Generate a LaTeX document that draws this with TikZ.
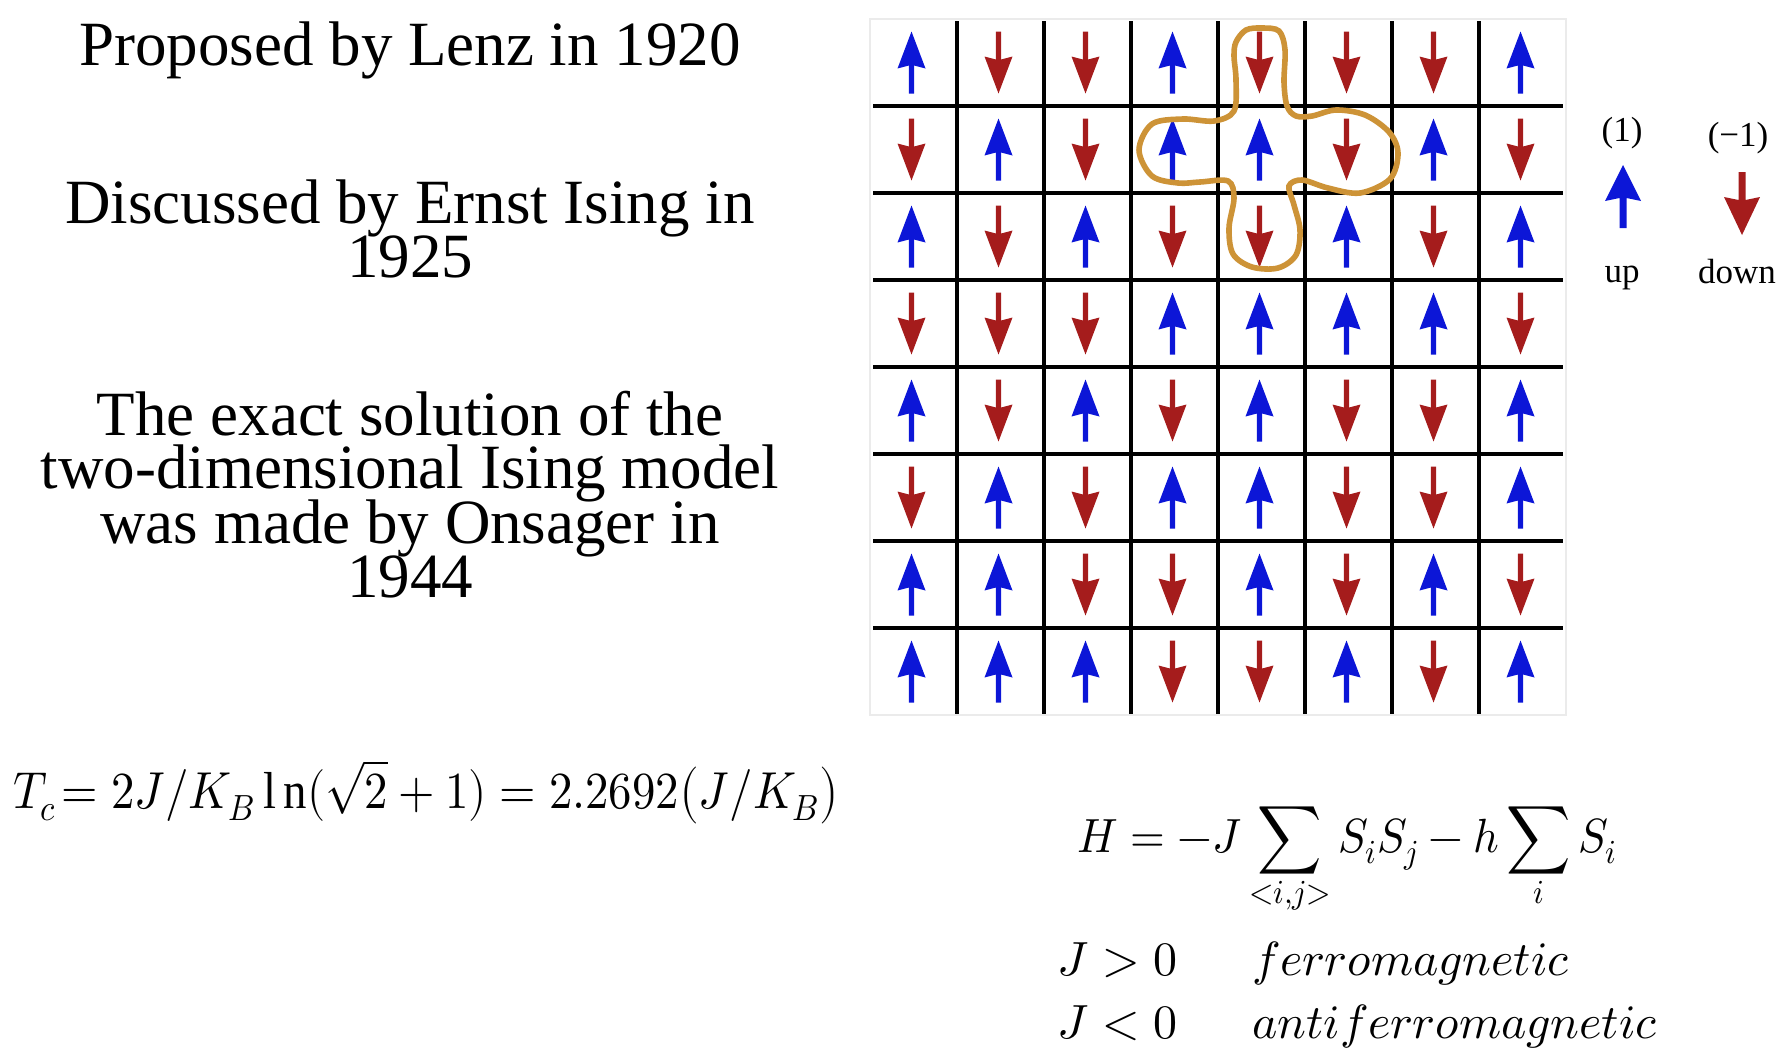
\documentclass[tikz,border=0pt]{standalone}
\usepackage{fontspec}
\setmainfont{Liberation Serif}
\usepackage{amsmath}
\usepackage{unicode-math}
\setmathfont{Latin Modern Math}
\definecolor{spinblue}{RGB}{12,22,215}
\definecolor{spinred}{RGB}{165,28,28}
\definecolor{loopor}{RGB}{205,147,55}
\tikzset{
  spinU/.pic={\fill[spinblue] (0,-31) -- (14,6) -- (2.6,3) -- (2.6,31) -- (-2.6,31) -- (-2.6,3) -- (-14,6) -- cycle;},
  spinD/.pic={\fill[spinred] (0,31) -- (14,-6) -- (2.6,-3) -- (2.6,-31) -- (-2.6,-31) -- (-2.6,-3) -- (-14,-6) -- cycle;},
  lbl/.style={anchor=base, inner sep=0pt, font=\fontsize{31.5}{31.5}\selectfont},
  leg/.style={anchor=base, inner sep=0pt, font=\fontsize{17.5}{17.5}\selectfont},
  mth/.style={anchor=base west, inner sep=0pt, font=\fontsize{24}{24}\selectfont},
  gridln/.style={line width=2.1pt, black},
}
\begin{document}
\begin{tikzpicture}[x=0.5pt,y=-0.5pt]
\useasboundingbox (0,0) rectangle (1776,1062);
% left texts
\node[lbl] (t1) at (410,65) {Proposed by Lenz in 1920};
\node[lbl] (t2a) at (410,223) {Discussed by Ernst Ising in};
\node[lbl] (t2b) at (410,277) {1925};
\node[lbl] (t3a) at (410,435) {The exact solution of the};
\node[lbl] (t3b) at (410,488) {two-dimensional Ising model};
\node[lbl] (t3c) at (410,543) {was made by Onsager in};
\node[lbl] (t3d) at (410,597) {1944};
% grid
\draw[black!8, line width=1pt] (870,19) rectangle (1566,715);
\foreach \k in {1,...,7}{
  \draw[gridln] (870+87*\k,21) -- (870+87*\k,714);
  \draw[gridln] (873,19+87*\k) -- (1563,19+87*\k);
}
\foreach \r/\s in {0/{U,D,D,U,D,D,D,U},1/{D,U,D,U,U,D,U,D},2/{U,D,U,D,D,U,D,U},3/{D,D,D,U,U,U,U,D},4/{U,D,U,D,U,D,D,U},5/{D,U,D,U,U,D,D,U},6/{U,U,D,D,U,D,U,D},7/{U,U,U,D,D,U,D,U}}{
  \foreach \v [count=\c from 0] in \s {
    \pic at (911.5+87*\c, 62.5+87*\r) {spin\v};
  }
}
% loop
\draw[loopor, line width=2.8pt, tension=0.55] plot[smooth cycle] coordinates {
 (1236,42) (1246,30) (1262,28) (1279,31) (1285,50) (1284,82) (1287,106) (1296,116)
 (1312,116) (1336,110) (1365,115) (1389,132) (1398,153) (1390,179) (1360,193) (1328,188) (1302,180) (1289,186)
 (1294,205) (1300,230) (1296,255) (1278,268) (1252,267) (1233,254) (1229,228) (1234,198) (1228,181)
 (1200,182) (1178,183) (1152,176) (1139,150) (1152,124) (1183,119) (1214,121) (1234,111)
 (1236,80) (1234,56)};
% legend
\node[leg] (l1) at (1622,141) {(1)};
\node[leg] (l2) at (1738,146) {(−1)};
\fill[spinblue] (1623,165) -- (1641,201) -- (1626.5,198) -- (1626.5,228) -- (1619.5,228) -- (1619.5,198) -- (1605,201) -- cycle;
\fill[spinred] (1742,235) -- (1760,197) -- (1745.5,200) -- (1745.5,172) -- (1738.5,172) -- (1738.5,200) -- (1724,197) -- cycle;
\node[leg] (l3) at (1622,282) {up};
\node[leg] (l4) at (1737,283) {down};
% formulas
\node[mth, font=\fontsize{26}{26}\selectfont] (tc) at (13,808) {\scalebox{0.9}[1]{$T_c\!= 2J/K_B\,\mathrm{l}\,\mathrm{n}(\sqrt{2}+1) = 2.2692\bigl(J/K_B\bigr)$}};
\node[mth, font=\fontsize{24}{24}\selectfont] (ham) at (1077,852) {\scalebox{0.93}[1]{$\displaystyle H = -J \sum_{<i,j>} S_iS_j - h\sum_i S_i$}};
\node[mth, font=\fontsize{24}{24}\selectfont] (j1) at (1057,975) {$J > 0$};
\node[mth, font=\fontsize{24}{24}\selectfont] (f1) at (1252,975) {$ferromagnetic$};
\node[mth, font=\fontsize{24}{24}\selectfont] (j2) at (1057,1038) {$J < 0$};
\node[mth, font=\fontsize{24}{24}\selectfont] (f2) at (1252,1038) {$antiferromagnetic$};
\end{tikzpicture}
\end{document}
